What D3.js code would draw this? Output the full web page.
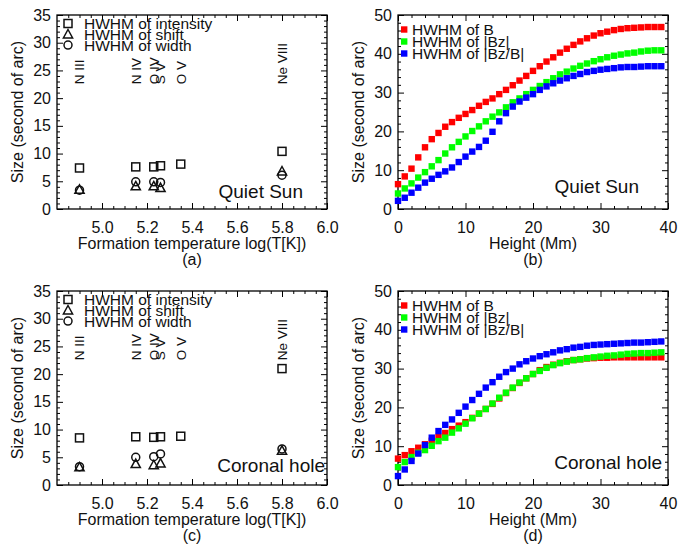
<!DOCTYPE html>
<html>
<head>
<meta charset="utf-8">
<script src="https://cdn.jsdelivr.net/npm/d3@7"></script>
<style>
body { margin: 0; background: #fff; }
svg { display: block; font-family: "Liberation Sans", Arial, sans-serif; }
</style>
</head>
<body>
<svg id="fig" width="683" height="545"></svg>
<script>
// spectral lines and their formation temperature log(T[K])
var lineNames = ["N III", "N IV", "O IV", "S V", "O V", "Ne VIII"];
var lineTemps = [4.9, 5.15, 5.23, 5.26, 5.35, 5.8];
var lineLabelY = 22.5;

// (a) quiet sun, HWHM in arcsec (null = not plotted)
var qsIntensity = [7.4, 7.6, 7.6, 7.8, 8.1, 10.4];
var qsShift     = [3.5, 4.1, 4.1, 3.8, null, 6.8];
var qsWidth     = [3.4, 4.9, 4.9, 4.8, null, 6.1];

// (c) coronal hole
var chIntensity = [8.5, 8.7, 8.6, 8.7, 8.8, 21.0];
var chShift     = [3.2, 3.8, 3.6, 3.9, null, 6.2];
var chWidth     = [3.3, 5.0, 5.1, 5.6, null, 6.5];

// height in Mm for (b) and (d)
var heights = [0, 1, 2, 3, 4, 5, 6, 7, 8, 9, 10, 11, 12, 13, 14, 15, 16, 17, 18, 19,
               20, 21, 22, 23, 24, 25, 26, 27, 28, 29, 30, 31, 32, 33, 34, 35, 36, 37, 38, 39];

// (b) quiet sun
var qsB = [6.4, 8.4, 10.4, 13.3, 15.9, 18.0, 19.6, 21.2, 22.4, 23.5, 24.5, 25.5, 26.6, 27.6, 28.5,
           29.6, 30.7, 31.9, 33.1, 34.3, 35.6, 36.8, 38.0, 39.1, 40.3, 41.3, 42.3, 43.2, 44.0, 44.7,
           45.3, 45.7, 46.1, 46.4, 46.6, 46.7, 46.8, 46.9, 46.9, 46.9];
var qsBz = [4.0, 5.3, 6.6, 8.1, 9.5, 11.0, 12.6, 14.3, 15.9, 17.3, 18.7, 20.1, 21.3, 22.6, 23.8,
            24.9, 26.2, 27.5, 28.5, 29.6, 30.7, 31.7, 32.7, 33.7, 34.7, 35.4, 36.2, 36.9, 37.5, 38.1,
            38.6, 39.1, 39.5, 39.8, 40.1, 40.3, 40.6, 40.8, 40.9, 40.9];
var qsBzB = [2.1, 2.9, 4.2, 5.5, 6.8, 7.8, 8.8, 9.7, 10.7, 12.1, 13.5, 14.8, 16.0, 17.6, 19.9,
             22.6, 24.7, 26.4, 27.7, 28.7, 29.6, 30.7, 31.6, 32.4, 33.1, 33.7, 34.3, 34.8, 35.3, 35.6,
             35.9, 36.1, 36.3, 36.5, 36.6, 36.6, 36.7, 36.8, 36.8, 36.8];

// (d) coronal hole
var chB = [6.8, 7.7, 8.7, 9.6, 10.5, 11.4, 12.4, 13.4, 14.4, 15.3, 16.2, 17.3, 18.4, 19.6, 20.9,
           22.3, 23.7, 25.0, 26.3, 27.5, 28.6, 29.6, 30.4, 31.0, 31.5, 31.9, 32.2, 32.4, 32.6, 32.7,
           32.8, 32.8, 32.9, 32.9, 32.9, 32.9, 32.9, 32.9, 32.9, 32.9];
var chBz = [4.6, 5.9, 7.2, 8.3, 9.0, 10.1, 11.3, 12.2, 13.5, 14.6, 15.8, 17.2, 18.4, 19.6, 21.0,
            22.5, 23.8, 25.1, 26.4, 27.5, 28.6, 29.4, 30.2, 30.9, 31.4, 31.8, 32.2, 32.4, 32.7, 32.9,
            33.1, 33.3, 33.4, 33.6, 33.8, 33.9, 34.0, 34.0, 34.1, 34.2];
var chBzB = [2.3, 4.0, 6.2, 8.1, 10.3, 12.2, 13.9, 15.5, 16.9, 18.6, 20.2, 21.9, 23.5, 25.1, 26.5,
             27.9, 29.1, 30.0, 31.1, 31.9, 32.6, 33.2, 33.7, 34.2, 34.7, 35.0, 35.4, 35.6, 35.9, 36.1,
             36.2, 36.3, 36.4, 36.5, 36.6, 36.7, 36.7, 36.8, 36.9, 37.0];

var symLabels = ["HWHM of intensity", "HWHM of shift", "HWHM of width"];
var magLabels = ["HWHM of B", "HWHM of |Bz|", "HWHM of |Bz/B|"];
var magColors = ["#ff0000", "#00ff00", "#0000ff"];

var tempTicks = [5.0, 5.2, 5.4, 5.6, 5.8, 6.0];
var tempMinor = [4.85, 4.9, 4.95, 5.05, 5.1, 5.15, 5.25, 5.3, 5.35, 5.45, 5.5, 5.55,
                 5.65, 5.7, 5.75, 5.85, 5.9, 5.95];
var sizeTicks = [0, 5, 10, 15, 20, 25, 30, 35];
var heightTicks = [0, 10, 20, 30, 40];
var fieldTicks = [0, 10, 20, 30, 40, 50];

var svg = d3.select("#fig");
var pw = 270, ph = 194;

function minorsOf(lo, hi, step, majors) {
    var out = [];
    for (var v = lo; v <= hi + 1e-9; v += step) {
        var r = Math.round(v * 1000) / 1000;
        if (majors.indexOf(r) < 0) out.push(r);
    }
    return out;
}

function drawFrame(g, x, y, xMaj, xMin, yMaj, yMin, xFmt) {
    var big = 6, small = 3;
    var b = g.append("g").attr("transform", "translate(0," + ph + ")");
    b.call(d3.axisBottom(x).tickValues(xMaj).tickSizeInner(-big).tickSizeOuter(0)
        .tickPadding(13).tickFormat(xFmt));
    g.append("g").attr("transform", "translate(0," + ph + ")")
        .call(d3.axisBottom(x).tickValues(xMin).tickSizeInner(-small).tickSizeOuter(0).tickFormat(""));
    g.append("g").call(d3.axisTop(x).tickValues(xMaj).tickSizeInner(-big).tickSizeOuter(0).tickFormat(""));
    g.append("g").call(d3.axisTop(x).tickValues(xMin).tickSizeInner(-small).tickSizeOuter(0).tickFormat(""));

    g.append("g").call(d3.axisLeft(y).tickValues(yMaj).tickSizeInner(-big).tickSizeOuter(0)
        .tickPadding(6).tickFormat(d3.format("d")));
    g.append("g").call(d3.axisLeft(y).tickValues(yMin).tickSizeInner(-small).tickSizeOuter(0).tickFormat(""));
    g.append("g").attr("transform", "translate(" + pw + ",0)")
        .call(d3.axisRight(y).tickValues(yMaj).tickSizeInner(-big).tickSizeOuter(0).tickFormat(""));
    g.append("g").attr("transform", "translate(" + pw + ",0)")
        .call(d3.axisRight(y).tickValues(yMin).tickSizeInner(-small).tickSizeOuter(0).tickFormat(""));

    g.selectAll(".domain").remove();
    g.selectAll(".tick line").attr("stroke", "#000").attr("stroke-width", 1);
    g.selectAll(".tick text").attr("font-size", 16).attr("font-family", null).attr("fill", "#111");
    g.append("rect").attr("width", pw).attr("height", ph)
        .attr("fill", "none").attr("stroke", "#000").attr("stroke-width", 1.3);
}

function titles(g, xTitle, letter) {
    g.append("text").attr("x", pw / 2).attr("y", ph + 40).attr("text-anchor", "middle")
        .attr("font-size", 16).attr("fill", "#111").text(xTitle);
    g.append("text").attr("x", pw / 2).attr("y", ph + 56).attr("text-anchor", "middle")
        .attr("font-size", 16).attr("fill", "#111").text(letter);
    g.append("text").attr("transform", "translate(-40," + ph / 2 + ") rotate(-90)")
        .attr("dy", "0.35em").attr("text-anchor", "middle")
        .attr("font-size", 16).attr("fill", "#111").text("Size (second of arc)");
}

function symbol(sel, kind) {
    if (kind === 0) {
        sel.append("rect").attr("x", -4).attr("y", -4).attr("width", 8).attr("height", 8);
    } else if (kind === 1) {
        sel.append("path").attr("d", "M0,-4.8L4.6,3.6L-4.6,3.6Z");
    } else {
        sel.append("circle").attr("r", 4);
    }
}

function scatterPanel(left, top, series, region, rx, ry, letter) {
    var g = svg.append("g").attr("transform", "translate(" + left + "," + top + ")");
    var x = d3.scaleLinear().domain([4.8, 6.0]).range([0, pw]);
    var y = d3.scaleLinear().domain([0, 35]).range([ph, 0]);
    drawFrame(g, x, y, tempTicks, tempMinor, sizeTicks, minorsOf(0, 35, 1, sizeTicks), d3.format(".1f"));
    titles(g, "Formation temperature log(T[K])", letter);

    // line names, rotated
    g.selectAll(".lname").data(lineNames).enter().append("text")
        .attr("transform", function(d, i) {
            return "translate(" + x(lineTemps[i]) + "," + y(lineLabelY) + ") rotate(-90)";
        })
        .attr("dy", "0.36em").attr("font-size", 13.5).attr("fill", "#111")
        .text(function(d) { return d; });

    // markers
    series.forEach(function(vals, k) {
        vals.forEach(function(v, i) {
            if (v === null) return;
            var m = g.append("g").attr("transform", "translate(" + x(lineTemps[i]) + "," + y(v) + ")")
                .attr("fill", "none").attr("stroke", "#111").attr("stroke-width", 1.5);
            symbol(m, k);
        });
    });

    // legend
    symLabels.forEach(function(lab, k) {
        var yy = 8.5 + 10.8 * k;
        var m = g.append("g").attr("transform", "translate(11," + yy + ")")
            .attr("fill", "none").attr("stroke", "#111").attr("stroke-width", 1.5);
        symbol(m, k);
        g.append("text").attr("x", 27).attr("y", yy).attr("dy", "0.36em")
            .attr("font-size", 15.5).attr("fill", "#111").text(lab);
    });

    g.append("text").attr("x", rx).attr("y", ry).attr("text-anchor", "end")
        .attr("font-size", 19).attr("fill", "#111").text(region);
}

function heightPanel(left, top, series, region, rx, ry, letter) {
    var g = svg.append("g").attr("transform", "translate(" + left + "," + top + ")");
    var x = d3.scaleLinear().domain([0, 40]).range([0, pw]);
    var y = d3.scaleLinear().domain([0, 50]).range([ph, 0]);
    drawFrame(g, x, y, heightTicks, minorsOf(0, 40, 2, heightTicks), fieldTicks,
        minorsOf(0, 50, 2, fieldTicks), d3.format("d"));
    titles(g, "Height (Mm)", letter);

    series.forEach(function(vals, k) {
        g.append("g").selectAll("rect").data(vals).enter().append("rect")
            .attr("x", function(d, i) { return x(heights[i]) - 3.2; })
            .attr("y", function(d) { return y(d) - 3.2; })
            .attr("width", 6.4).attr("height", 6.4)
            .attr("fill", magColors[k]);
    });

    magLabels.forEach(function(lab, k) {
        var yy = 14.5 + 12 * k;
        g.append("rect").attr("x", 3).attr("y", yy - 3.2).attr("width", 6.4).attr("height", 6.4)
            .attr("fill", magColors[k]);
        g.append("text").attr("x", 14).attr("y", yy).attr("dy", "0.36em")
            .attr("font-size", 15.5).attr("fill", "#111").text(lab);
    });

    g.append("text").attr("x", rx).attr("y", ry).attr("text-anchor", "end")
        .attr("font-size", 19).attr("fill", "#111").text(region);
}

scatterPanel(57, 15, [qsIntensity, qsShift, qsWidth], "Quiet Sun", 246, 183, "(a)");
heightPanel(398, 15, [qsB, qsBz, qsBzB], "Quiet Sun", 241, 178, "(b)");
scatterPanel(57, 291, [chIntensity, chShift, chWidth], "Coronal hole", 268, 181, "(c)");
heightPanel(398, 291, [chB, chBz, chBzB], "Coronal hole", 264, 178, "(d)");
</script>
</body>
</html>
